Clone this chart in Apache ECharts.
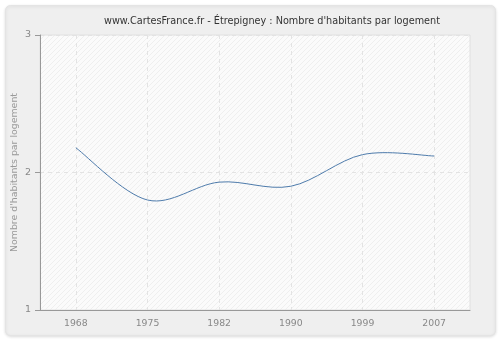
<!DOCTYPE html>
<html><head><meta charset="utf-8">
<script src="https://cdn.jsdelivr.net/npm/echarts@6/dist/echarts.min.js"></script>
<style>html,body{margin:0;padding:0;background:#fff}#c{width:500px;height:340px}</style>
</head><body><div id="c"></div>
<script>
const years = ['1968','1975','1982','1990','1999','2007'];
const values = [2.18, 1.80, 1.93, 1.90, 2.13, 2.12];
const yTicks = [1, 2, 3];
const titleText = "www.CartesFrance.fr - Étrepigney : Nombre d'habitants par logement";
const yName = "Nombre d'habitants par logement";

const pc = document.createElement('canvas');
pc.width = 5; pc.height = 5;
const g = pc.getContext('2d');
g.fillStyle = '#fbfbfb'; g.fillRect(0,0,5,5);
g.strokeStyle = '#efefef'; g.lineWidth = 1;
g.beginPath(); g.moveTo(0,5); g.lineTo(5,0); g.stroke();

const chart = echarts.init(document.getElementById('c'), null, {renderer:'canvas'});
chart.setOption({
  backgroundColor: '#fff',
  animation: false,
  graphic: [{
    type: 'rect', left: 5, top: 5, z: -10,
    shape: {width: 490, height: 330, r: 5},
    style: {fill: '#efefef', stroke: '#e4e4e4', lineWidth: 1, shadowBlur: 3, shadowColor: 'rgba(0,0,0,0.12)', shadowOffsetY: 1}
  }],
  title: {
    text: titleText, left: 99, top: 11,
    textStyle: {fontFamily: 'DejaVu Sans', fontSize: 9.7, fontWeight: 'normal', color: '#333'}
  },
  grid: {left: 40, right: 30, top: 35, bottom: 30, show: true, outerBoundsMode: 'none', containLabel: false,
    backgroundColor: {image: pc, repeat: 'repeat'}, borderColor: '#e0e0e0', borderWidth: 1},
  xAxis: {
    type: 'category', data: years, boundaryGap: true,
    axisLine: {lineStyle: {color: '#999'}},
    axisTick: {alignWithLabel: true, length: 5, lineStyle: {color: '#999'}},
    axisLabel: {color: '#888', fontFamily: 'DejaVu Sans', fontSize: 9.3, margin: 9},
    splitLine: {show: true, alignWithLabel: true, lineStyle: {color: '#e3e3e3', type: [4,4]}}
  },
  yAxis: {
    type: 'value', min: yTicks[0], max: yTicks[yTicks.length-1], interval: 1,
    name: yName, nameLocation: 'middle', nameGap: 21, nameMoveOverlap: false,
    nameTextStyle: {color: '#999', fontFamily: 'DejaVu Sans', fontSize: 9.4},
    axisLine: {show: true, lineStyle: {color: '#999'}},
    axisTick: {show: true, length: 5, lineStyle: {color: '#999'}},
    axisLabel: {color: '#888', fontFamily: 'DejaVu Sans', fontSize: 9.5, margin: 9},
    splitLine: {show: true, lineStyle: {color: '#e3e3e3', type: [4,4]}}
  },
  series: [{
    type: 'custom', data: values.map((v, i) => [i, v]), clip: false,
    renderItem: function (params, api) {
      const i = params.dataIndex;
      const n = values.length;
      if (i >= n - 1) return null;
      const P = k => api.coord([Math.max(0, Math.min(n - 1, k)), values[Math.max(0, Math.min(n - 1, k))]]);
      const p0 = P(i - 1), p1 = P(i), p2 = P(i + 1), p3 = P(i + 2);
      return {
        type: 'bezierCurve',
        shape: {
          x1: p1[0], y1: p1[1], x2: p2[0], y2: p2[1],
          cpx1: p1[0] + (p2[0] - p0[0]) / 6, cpy1: p1[1] + (p2[1] - p0[1]) / 6,
          cpx2: p2[0] - (p3[0] - p1[0]) / 6, cpy2: p2[1] - (p3[1] - p1[1]) / 6
        },
        style: {stroke: '#4f7cac', lineWidth: 1, fill: null}
      };
    }
  }]
});
</script></body></html>
